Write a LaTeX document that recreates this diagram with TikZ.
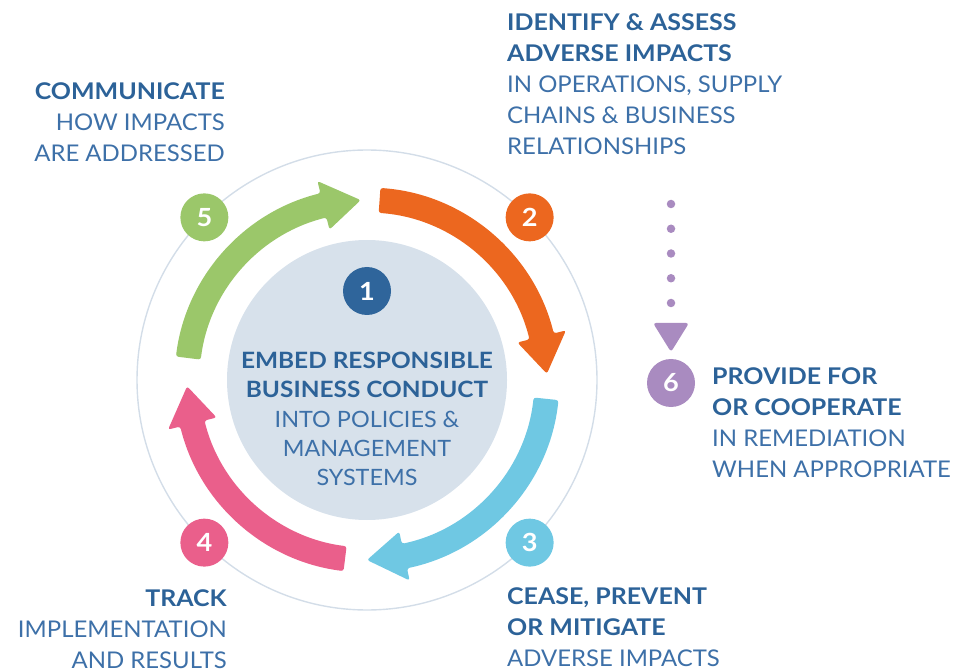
\documentclass[tikz,border=0pt]{standalone}
\usepackage{fontspec}
\setmainfont{Lato}[FakeStretch=1.04, BoldFeatures={FakeStretch=1.085}]
\begin{document}
\definecolor{ringgreen}{HTML}{9BC76A}
\definecolor{ringorange}{HTML}{EC671F}
\definecolor{ringcyan}{HTML}{6FC8E3}
\definecolor{ringpink}{HTML}{EA5F8B}
\definecolor{stepblue}{HTML}{2F659B}
\definecolor{steppurple}{HTML}{A98BC0}
\definecolor{headblue}{HTML}{2C6298}
\definecolor{bodyblue}{HTML}{3D70A8}
\definecolor{diskfill}{HTML}{D7E1EB}
\definecolor{guide}{HTML}{D3DDE8}
\tikzset{
  numdisc/.style={circle, fill=#1, text=white, minimum size=48pt, inner sep=0pt,
    font=\fontsize{25}{25}\selectfont\bfseries},
  label/.style={inner sep=0pt, text=bodyblue, font=\fontsize{23}{31}\selectfont},
}
\newcommand\hd[1]{{\bfseries\color{headblue}#1}}
% curved ring arrow: colour, tail angle, tip angle (clockwise)
\newcommand\cyclearrow[3]{%
  \fill[#1, rounded corners=2.5pt]
    (#2:192.5pt) arc[start angle=#2, end angle=#3+12, radius=192.5pt]
    -- (#3+12:205pt) -- (#3:180pt) -- (#3+12:155pt) -- (#3+12:167.5pt)
    arc[start angle=#3+12, end angle=#2, radius=167.5pt] -- cycle;}
\begin{tikzpicture}[x=1pt, y=1pt]
\useasboundingbox (0,0) rectangle (971,670);
\coordinate (c) at (367,290);
% guide circle and centre disk
\draw[guide, line width=1.4pt] (c) circle[radius=230pt];
\node[circle, fill=diskfill, minimum size=280pt, inner sep=0pt] (core) at (c) {};
% the four ring arrows
\begin{scope}[shift={(c)}]
  \cyclearrow{ringgreen}{173}{92}
  \cyclearrow{ringorange}{86}{2}
  \cyclearrow{ringcyan}{-6}{-90}
  \cyclearrow{ringpink}{-97}{-178}
\end{scope}
% numbered discs
\node[numdisc=stepblue]   (n1) at (367,379) {1};
\node[numdisc=ringorange] (n2) at ([shift={(c)}]45:230pt) {2};
\node[numdisc=ringcyan]   (n3) at ([shift={(c)}]-45:230pt) {3};
\node[numdisc=ringpink]   (n4) at ([shift={(c)}]-135:230pt) {4};
\node[numdisc=ringgreen]  (n5) at ([shift={(c)}]135:230pt) {5};
\node[numdisc=steppurple] (n6) at (671,287) {6};
% dotted lead to remediation
\coordinate (dtop) at (671,466);
\coordinate (dend) at (671,367);
\draw[steppurple, line width=8.5pt, line cap=round, dash pattern=on 0pt off 24.75pt]
  (dtop) -- (dend);
\coordinate (tl) at (653,347);
\coordinate (tr) at (689,347);
\coordinate (tip) at (671,318);
\fill[steppurple, rounded corners=3pt] (tl) -- (tr) -- (tip) -- cycle;
% centre text
\node[label, align=center, anchor=north, font=\fontsize{22.5}{29.3}\selectfont] (tcore) at (367,318)
  {\hd{EMBED RESPONSIBLE}\\\hd{BUSINESS CONDUCT}\\INTO POLICIES \&\\MANAGEMENT\\SYSTEMS};
% step captions
\node[label, align=right, anchor=north east] (t5) at (225,588)
  {\hd{COMMUNICATE}\\HOW IMPACTS\\ARE ADDRESSED};
\node[label, align=left, anchor=north west] (t2) at (507,657)
  {\hd{IDENTIFY \& ASSESS}\\\hd{ADVERSE IMPACTS}\\IN OPERATIONS, SUPPLY\\CHAINS \& BUSINESS\\RELATIONSHIPS};
\node[label, align=right, anchor=north east] (t4) at (227,81)
  {\hd{TRACK}\\IMPLEMENTATION\\AND RESULTS};
\node[label, align=left, anchor=north west] (t3) at (507,83)
  {\hd{CEASE, PREVENT}\\\hd{OR MITIGATE}\\ADVERSE IMPACTS};
\node[label, align=left, anchor=north west] (t6) at (712,303)
  {\hd{PROVIDE FOR}\\\hd{OR COOPERATE}\\IN REMEDIATION\\WHEN APPROPRIATE};
\end{tikzpicture}
\end{document}
